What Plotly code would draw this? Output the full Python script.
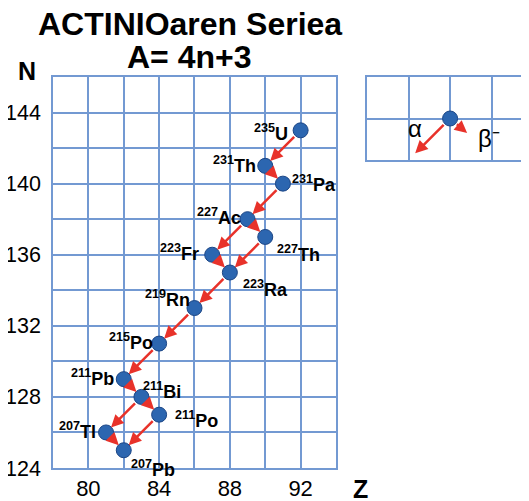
import plotly.graph_objects as go

# ---------------- data ----------------
symbols = ["U", "Th", "Pa", "Ac", "Th", "Fr", "Ra", "Rn", "Po", "Pb", "Bi", "Po", "Tl", "Pb"]
mass = [235, 231, 231, 227, 227, 223, 223, 219, 215, 211, 211, 211, 207, 207]
Z = [92, 90, 91, 89, 90, 87, 88, 86, 84, 82, 83, 84, 81, 82]
N = [143, 141, 140, 138, 137, 136, 135, 133, 131, 129, 128, 127, 126, 125]
# decays: (parent index, daughter index)
decays = [(0, 1), (1, 2), (2, 3), (3, 4), (3, 5), (4, 6), (5, 6), (6, 7), (7, 8),
          (8, 9), (9, 10), (10, 11), (10, 12), (11, 13), (12, 13)]
x_ticks = [80, 84, 88, 92]
y_ticks = [124, 128, 132, 136, 140, 144]
legend_labels = ["α", "β⁻"]

# ---------------- styles ----------------
GRID = "#7399d2"
RED = "#e8322a"
BLUE = "#2c66b0"
FONT = "Liberation Sans, Arial, sans-serif"
# label placement: (xanchor, xshift, yshift) in pixels
label_pos = [("right", -11, -2), ("right", -7, 1), ("left", 7, 0), ("right", -5, 3),
             ("left", 10, -17), ("right", -11, 2), ("left", 11, -16), ("right", -2, 10),
             ("right", -4, 2), ("right", -8, 2), ("left", 0, 6), ("left", 14, -5),
             ("right", -8, 2), ("left", 5, -18)]

fig = go.Figure()
fig.add_trace(go.Scatter(
    x=Z, y=N, mode="markers",
    marker=dict(size=15, color=BLUE, line=dict(color="#1b4585", width=1)),
    hoverinfo="skip", showlegend=False, xaxis="x", yaxis="y"))

# legend inset point
fig.add_trace(go.Scatter(
    x=[0], y=[0], mode="markers",
    marker=dict(size=15, color=BLUE, line=dict(color="#1b4585", width=1)),
    hoverinfo="skip", showlegend=False, xaxis="x2", yaxis="y2"))

ann = []
for p, d in decays:
    ann.append(dict(x=Z[d], y=N[d], ax=Z[p], ay=N[p], xref="x", yref="y",
                    axref="x", ayref="y", showarrow=True, text="",
                    arrowcolor=RED, arrowwidth=2.5, arrowhead=2, arrowsize=1,
                    standoff=7, startstandoff=7))

for i in range(len(Z)):
    xa, xs, ys = label_pos[i]
    ann.append(dict(x=Z[i], y=N[i], xref="x", yref="y", showarrow=False,
                    text=f"<sup>{mass[i]}</sup>{symbols[i]}",
                    xanchor=xa, yanchor="middle", xshift=xs, yshift=ys,
                    font=dict(family=FONT, size=18, color="black", weight="bold")))

# inset arrows
ann.append(dict(x=-0.84, y=-0.84, ax=0, ay=0, xref="x2", yref="y2", axref="x2", ayref="y2",
                showarrow=True, text="", arrowcolor=RED, arrowwidth=2.5, arrowhead=2,
                arrowsize=1, standoff=0, startstandoff=7))
ann.append(dict(x=0.41, y=-0.35, ax=0, ay=0, xref="x2", yref="y2", axref="x2", ayref="y2",
                showarrow=True, text="", arrowcolor=RED, arrowwidth=2.5, arrowhead=2,
                arrowsize=1, standoff=0, startstandoff=7))
ann.append(dict(x=-0.84, y=-0.24, xref="x2", yref="y2", showarrow=False, text=legend_labels[0],
                font=dict(family=FONT, size=24, color="black")))
ann.append(dict(x=0.94, y=-0.47, xref="x2", yref="y2", showarrow=False, text=legend_labels[1],
                font=dict(family=FONT, size=24, color="black")))

# titles
ann.append(dict(x=0.2878, y=1.1355, xref="paper", yref="paper", showarrow=False,
                text="ACTINIOaren Seriea", xanchor="center", yanchor="middle",
                font=dict(family=FONT, size=32, color="black", weight="bold")))
ann.append(dict(x=0.2878, y=1.0499, xref="paper", yref="paper", showarrow=False,
                text="A= 4n+3", xanchor="center", yanchor="middle",
                font=dict(family=FONT, size=32, color="black", weight="bold")))
ann.append(dict(x=-0.0536, y=1.0153, xref="paper", yref="paper", showarrow=False,
                text="N", xanchor="center", yanchor="middle",
                font=dict(family=FONT, size=25, color="black", weight="bold")))
ann.append(dict(x=0.645, y=-0.0537, xref="paper", yref="paper", showarrow=False,
                text="Z", xanchor="center", yanchor="middle",
                font=dict(family=FONT, size=25, color="black", weight="bold")))

axis_common = dict(showline=True, linecolor=GRID, linewidth=1.5, mirror=True,
                   showgrid=True, gridcolor=GRID, gridwidth=1.5, zeroline=False,
                   automargin=False, ticks="")

# the page body adds an 8px offset; margins compensate so the plot lands in place
fig.update_layout(
    width=529, height=501,
    margin=dict(l=45, r=8, t=69, b=41),
    paper_bgcolor="white", plot_bgcolor="white",
    showlegend=False,
    xaxis=dict(domain=[0, 0.5945], range=[78, 94], tickvals=x_ticks,
               tickfont=dict(family=FONT, size=22, color="black"),
               minor=dict(dtick=2, tick0=78, showgrid=True, gridcolor=GRID, gridwidth=1.5),
               ticklabelstandoff=0, **axis_common),
    yaxis=dict(domain=[0, 1], range=[124, 146], tickvals=y_ticks,
               tickfont=dict(family=FONT, size=21.5, color="black"),
               minor=dict(dtick=2, tick0=124, showgrid=True, gridcolor=GRID, gridwidth=1.5),
               ticklabelstandoff=6, **axis_common),
    xaxis2=dict(domain=[0.6597, 1], range=[-2, 1.9], dtick=1, tick0=0, anchor="y2",
                automargin=False,
                showticklabels=False, showline=True, linecolor=GRID, linewidth=1.5, mirror=True,
                showgrid=True, gridcolor=GRID, gridwidth=1.5, zeroline=False, ticks=""),
    yaxis2=dict(domain=[0.7877, 1], range=[-1, 1], dtick=1, tick0=0, anchor="x2",
                automargin=False,
                showticklabels=False, showline=True, linecolor=GRID, linewidth=1.5, mirror=False,
                showgrid=True, gridcolor=GRID, gridwidth=1.5, zeroline=False, ticks=""),
    annotations=ann,
)

fig.write_html("out.html")
